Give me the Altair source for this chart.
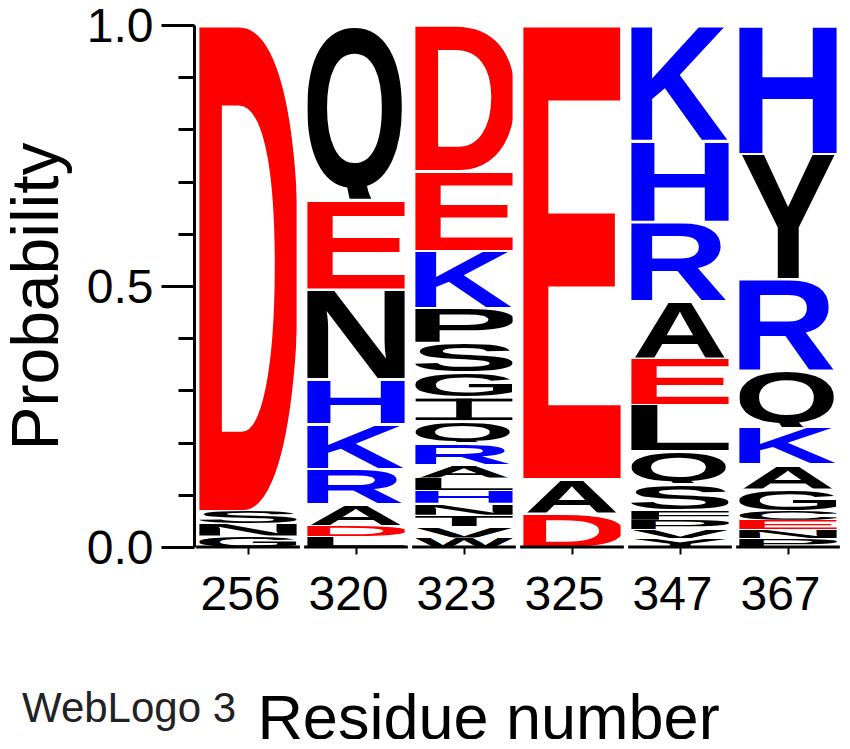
import base64
import altair as alt
import pandas as pd

# ---- data (letters listed top of stack -> bottom) ----
residues = ["256", "320", "323", "325", "347", "367"]

letters_256 = ["D", "S", "N", "G"]
probs_256 = [0.929, 0.025, 0.024, 0.022]

letters_320 = ["Q", "E", "N", "H", "K", "R", "A", "D", "L"]
probs_320 = [0.333, 0.172, 0.172, 0.086, 0.086, 0.067, 0.042, 0.021, 0.021]

letters_323 = ["D", "E", "K", "P", "S", "G", "I", "Q", "R", "A", "L", "H", "N", "T", "V", "W"]
probs_323 = [0.278, 0.153, 0.109, 0.067, 0.056, 0.048, 0.046, 0.042, 0.042,
             0.026, 0.024, 0.024, 0.023, 0.022, 0.022, 0.018]

letters_325 = ["E", "A", "D"]
probs_325 = [0.868, 0.066, 0.066]

letters_347 = ["K", "H", "R", "A", "E", "L", "Q", "S", "F", "P", "V", "Y"]
probs_347 = [0.220, 0.155, 0.152, 0.110, 0.090, 0.088, 0.063, 0.050, 0.020, 0.018, 0.017, 0.017]

letters_367 = ["H", "Y", "R", "Q", "K", "A", "G", "C", "E", "N", "P"]
probs_367 = [0.245, 0.240, 0.175, 0.110, 0.070, 0.048, 0.042, 0.018, 0.018, 0.017, 0.017]

columns = [
    (letters_256, probs_256), (letters_320, probs_320), (letters_323, probs_323),
    (letters_325, probs_325), (letters_347, probs_347), (letters_367, probs_367),
]

PLOT_W, PLOT_H = 648, 522

# charge colour scheme
ACIDIC, BASIC = set("DE"), set("KRH")
def letter_color(c):
    if c in ACIDIC:
        return "#FF0000"
    if c in BASIC:
        return "#0000FF"
    return "#000000"

# approximate ink boxes of bold sans glyphs (font units, em = 2048)
CAP, RTOP, RBOT = 1409, 1434, -24
GLYPH = {
    "A": (0, 1479, 0, CAP), "C": (84, 1378, RBOT, RTOP), "D": (150, 1370, 0, CAP),
    "E": (150, 1249, 0, CAP), "F": (150, 1147, 0, CAP), "G": (90, 1465, RBOT, RTOP),
    "H": (150, 1329, 0, CAP), "I": (0, 1000, 0, 1000), "K": (150, 1485, 0, CAP),
    "L": (160, 1178, 0, CAP), "M": (146, 1560, 0, CAP), "N": (150, 1327, 0, CAP),
    "P": (150, 1280, 0, CAP), "Q": (84, 1540, -120, RTOP), "R": (150, 1479, 0, CAP),
    "S": (70, 1280, RBOT, RTOP), "T": (45, 1208, 0, CAP), "V": (0, 1366, 0, CAP),
    "W": (10, 1925, 0, CAP), "Y": (0, 1366, 0, CAP),
}

def glyph_url(letter, box_px):
    x0, x1, y0, y1 = GLYPH[letter]
    w, h = x1 - x0, y1 - y0
    gap = min(2.5, 0.15 * box_px)          # small white gap above each letter
    pad = h * gap / max(box_px - gap, 0.5)
    color = letter_color(letter)
    if letter == "I":                       # WebLogo's I has bars at top and bottom
        body = (f'<rect x="0" y="-1000" width="1000" height="130" fill="{color}"/>'
                f'<rect x="0" y="-130" width="1000" height="130" fill="{color}"/>'
                f'<rect x="420" y="-1000" width="160" height="1000" fill="{color}"/>')
    else:
        body = (f'<text x="0" y="0" font-family="Liberation Sans, Arial, Helvetica, sans-serif" '
                f'font-weight="bold" font-size="2048" fill="{color}">{letter}</text>')
    svg = (
        f'<svg xmlns="http://www.w3.org/2000/svg" width="{w}" height="{h + pad:.1f}" '
        f'viewBox="{x0} {-y1 - pad:.2f} {w} {h + pad:.2f}" preserveAspectRatio="none">'
        f'{body}</svg>'
    )
    return "data:image/svg+xml;base64," + base64.b64encode(svg.encode()).decode()

HALF = 0.45
rows = []
for i, (lets, probs) in enumerate(columns):
    bottom = 0.0
    for c, p in reversed(list(zip(lets, probs))):
        rows.append({"col": i, "letter": c, "x0": i - HALF, "x1": i + HALF,
                     "y0": bottom, "y1": bottom + p, "url": glyph_url(c, p * PLOT_H)})
        bottom += p
df = pd.DataFrame(rows)
seg = pd.DataFrame({"col": list(range(len(residues)))})
seg["s0"] = seg["col"] - 0.48
seg["s1"] = seg["col"] + 0.48

REG = "Liberation Sans, Arial, Helvetica, sans-serif"

label_expr = "[" + ",".join(f"'{r}'" for r in residues) + "][datum.value]"
major = "abs(datum.value * 2 - round(datum.value * 2)) < 0.001"

xscale = alt.Scale(domain=[-0.5, len(residues) - 0.5], nice=False, zero=False)
yscale = alt.Scale(domain=[0, 1], nice=False, zero=False)

xaxis = alt.Axis(
    values=list(range(len(residues))), labelExpr=label_expr, grid=False, domain=False,
    tickSize=7, tickWidth=2, tickColor="black", labelPadding=17, labelOverlap=False,
    labelOffset=-8, labelFont=REG, labelFontSize=48, labelColor="black",
    title="Residue number", titleFont=REG, titleFontSize=63, titleFontWeight="normal",
    titleColor="black", titleX=294, titleY=191, titleBaseline="alphabetic", titleAlign="center",
)
yaxis = alt.Axis(
    values=[round(0.1 * k, 1) for k in range(11)], grid=False,
    labelExpr=f"{major} ? format(datum.value, '.1f') : ''",
    tickSize={"condition": {"test": major, "value": 33}, "value": 16},
    tickWidth=3, tickColor="black", domainColor="black", domainWidth=3,
    labelPadding=8, labelOffset=2, labelFont=REG, labelFontSize=48, labelColor="black",
    title="Probability", titleFont=REG, titleFontSize=66, titleFontWeight="normal",
    titleColor="black", titleX=-137, titleY=271, titleBaseline="alphabetic", titleAlign="center",
    titleAngle=-90,
)

logo = alt.Chart(df).mark_image(aspect=False).encode(
    x=alt.X("x0:Q", scale=xscale, axis=xaxis),
    x2="x1:Q",
    y=alt.Y("y0:Q", scale=yscale, axis=yaxis),
    y2="y1:Q",
    url="url:N",
)

segments = alt.Chart(seg).mark_rule(color="black", strokeWidth=3).encode(
    x=alt.X("s0:Q", scale=xscale), x2="s1:Q", y=alt.datum(0)
)

credit = alt.Chart(pd.DataFrame({"t": ["WebLogo 3"]})).mark_text(
    align="left", baseline="alphabetic", font=REG, fontSize=42, color="#222222"
).encode(x=alt.value(-172), y=alt.value(697), text="t:N")

chart = alt.layer(logo, segments, credit).properties(
    width=PLOT_W, height=PLOT_H,
    autosize=alt.AutoSizeParams(type="none"),
    padding={"left": 186, "top": 17, "right": 0, "bottom": 192},
).configure_view(stroke=None)

chart.save("out.html", embed_options={"renderer": "svg", "actions": False})
